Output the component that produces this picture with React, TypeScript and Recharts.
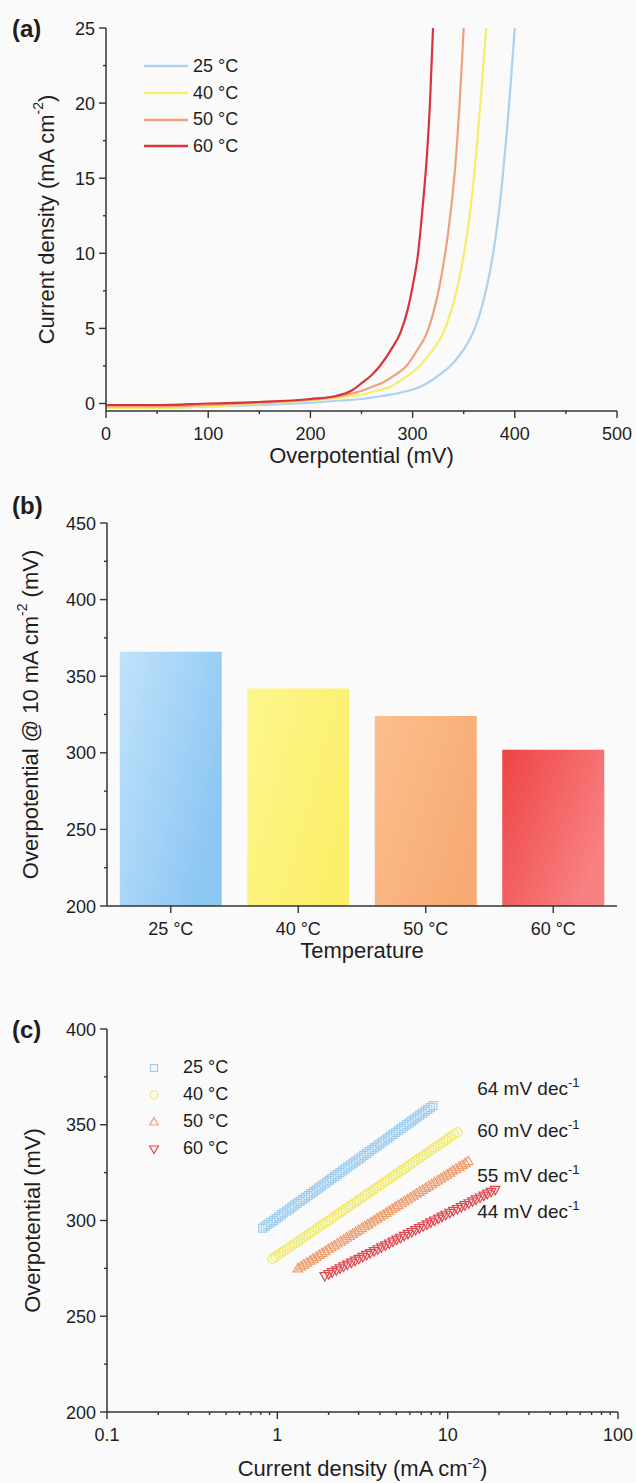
import React from "react"
import {
  LineChart,
  Line,
  BarChart,
  Bar,
  Cell,
  ScatterChart,
  Scatter,
  XAxis,
  YAxis,
  Legend,
  Label,
  ReferenceDot,
} from "recharts"

const FONT = '"Liberation Sans", Arial, Helvetica, sans-serif'
const INK = "#1e1e1e"
const AXIS = "#333"

const tempLabels = ["25 °C", "40 °C", "50 °C", "60 °C"]
const lineColors = ["#a9d3f1", "#f3ee6c", "#eea17b", "#d6353c"]
const markerColors = ["#9dccef", "#f1ea66", "#ef9d70", "#e0474d"]

// (a) polarization curves: [overpotential mV, current density mA cm-2]
const lsv25 = [
  [0, -0.3], [50, -0.3], [100, -0.2], [150, -0.1], [200, 0.05], [230, 0.2], [250, 0.3], [270, 0.5],
  [290, 0.75], [307, 1.1], [320, 1.6], [330, 2.1], [337, 2.5], [350, 3.6], [359, 4.7], [364, 5.6],
  [368, 6.5], [372, 7.6], [376, 8.9], [380, 10.5], [384, 12.5], [388, 15], [392, 17.9], [396, 21.3],
  [400, 25],
]
const lsv40 = [
  [0, -0.3], [50, -0.3], [100, -0.2], [150, 0], [200, 0.2], [230, 0.4], [251, 0.6], [265, 0.85],
  [278, 1.1], [292, 1.7], [307, 2.5], [319, 3.5], [330, 4.7], [335, 5.6], [340, 6.7], [344, 7.8],
  [348, 9.1], [352, 10.7], [356, 12.6], [360, 15], [364, 18], [368, 21.4], [372, 25],
]
const lsv50 = [
  [0, -0.2], [50, -0.2], [100, -0.1], [150, 0.05], [200, 0.25], [230, 0.5], [248, 0.8], [260, 1.1],
  [271, 1.4], [283, 1.9], [294, 2.5], [304, 3.5], [314, 4.7], [318, 5.5], [322, 6.5], [326, 7.7],
  [330, 9.2], [334, 11], [338, 13.2], [342, 16], [346, 20], [349, 23.6], [350, 25],
]
const lsv60 = [
  [0, -0.1], [50, -0.1], [100, 0], [150, 0.1], [200, 0.3], [225, 0.5], [240, 0.85], [251, 1.4],
  [260, 1.9], [268, 2.5], [280, 3.7], [288, 4.7], [295, 6.2], [300, 7.8], [305, 9.8], [310, 13.2],
  [314, 16.5], [317, 20], [320, 25],
]

// (b) overpotential at 10 mA cm-2
const eta10 = [366, 342, 324, 302]

// (c) Tafel plots: current density (mA cm-2) per overpotential step, starting at etaStart, 1 mV apart
const tafel25Start = 296
const tafel25 = [
  0.82, 0.85, 0.88, 0.915, 0.95, 0.985, 1.02, 1.055, 1.09, 1.135, 1.18, 1.22, 1.26, 1.31, 1.36, 1.41,
  1.46, 1.515, 1.57, 1.63, 1.69, 1.75, 1.81, 1.88, 1.95, 2.02, 2.09, 2.17, 2.25, 2.33, 2.41, 2.5,
  2.59, 2.69, 2.79, 2.89, 3.0, 3.11, 3.22, 3.34, 3.46, 3.59, 3.72, 3.86, 4.0, 4.14, 4.29, 4.45,
  4.61, 4.78, 4.96, 5.14, 5.33, 5.52, 5.73, 5.94, 6.15, 6.38, 6.61, 6.85, 7.1, 7.37, 7.64, 7.92, 8.2,
]
const tafel40Start = 280
const tafel40 = [
  0.94, 0.975, 1.01, 1.05, 1.09, 1.135, 1.18, 1.225, 1.27, 1.32, 1.37, 1.425, 1.48, 1.535, 1.59, 1.655,
  1.72, 1.785, 1.85, 1.925, 2.0, 2.08, 2.16, 2.245, 2.33, 2.42, 2.51, 2.61, 2.71, 2.815, 2.92, 3.035,
  3.15, 3.27, 3.39, 3.52, 3.66, 3.8, 3.95, 4.1, 4.26, 4.42, 4.59, 4.77, 4.95, 5.14, 5.34, 5.55,
  5.76, 5.98, 6.21, 6.45, 6.7, 6.96, 7.22, 7.5, 7.79, 8.09, 8.4, 8.72, 9.06, 9.41, 9.77, 10.1, 10.5,
  10.9, 11.4,
]
const tafel50Start = 275
const tafel50 = [
  1.32, 1.375, 1.43, 1.49, 1.56, 1.62, 1.69, 1.76, 1.83, 1.91, 1.99, 2.07, 2.16, 2.25, 2.35, 2.45,
  2.55, 2.66, 2.77, 2.88, 3.0, 3.13, 3.26, 3.4, 3.54, 3.69, 3.84, 4.0, 4.17, 4.35, 4.53, 4.72,
  4.92, 5.12, 5.34, 5.56, 5.8, 6.04, 6.29, 6.56, 6.83, 7.12, 7.42, 7.73, 8.05, 8.39, 8.74, 9.11,
  9.49, 9.89, 10.3, 10.7, 11.2, 11.7, 12.2, 12.7, 13.2,
]
const tafel60Start = 271
const tafel60 = [
  1.9, 2.0, 2.1, 2.22, 2.33, 2.45, 2.58, 2.72, 2.86, 3.01, 3.17, 3.34, 3.51, 3.7, 3.89, 4.09,
  4.31, 4.54, 4.77, 5.02, 5.28, 5.56, 5.85, 6.16, 6.48, 6.82, 7.18, 7.56, 7.95, 8.37, 8.81, 9.27,
  9.75, 10.3, 10.8, 11.4, 12.0, 12.6, 13.3, 14.0, 14.7, 15.5, 16.3, 17.1, 18.0, 19.0,
]
const tafelSlopes = ["64", "60", "55", "44"]

const lsvSeries = [lsv25, lsv40, lsv50, lsv60].map((s) => s.map(([x, y]) => ({ x, y })))
const tafelSeries = [
  [tafel25, tafel25Start],
  [tafel40, tafel40Start],
  [tafel50, tafel50Start],
  [tafel60, tafel60Start],
].map(([js, start]: any) => js.map((j: number, k: number) => ({ j, eta: start + k })))
const barData = tempLabels.map((t, i) => ({ t, v: eta10[i] }))

const TICK = 7
const MINOR = 3
const LEFT_GAP = 4
const BOTTOM_GAP = 6

const leftTick = (majors: number[]) => (p: any) => {
  const { x, y, payload } = p
  const ax = x + TICK + LEFT_GAP
  const major = majors.includes(payload.value)
  return (
    <g>
      <line x1={ax} x2={ax - (major ? TICK : MINOR)} y1={y} y2={y} stroke={AXIS} strokeWidth={1.4} />
      {major && (
        <text x={x} y={y + 6.5} textAnchor="end" fontSize={18} fill={INK} fontFamily={FONT}>
          {payload.value}
        </text>
      )}
    </g>
  )
}

const bottomTick = (isMajor: (v: any) => boolean) => (p: any) => {
  const { x, y, payload } = p
  const ay = y - TICK - BOTTOM_GAP
  const major = isMajor(payload.value)
  return (
    <g>
      <line x1={x} x2={x} y1={ay} y2={ay + (major ? TICK : MINOR)} stroke={AXIS} strokeWidth={1.4} />
      {major && (
        <text x={x} y={ay + 29} textAnchor="middle" fontSize={18} fill={INK} fontFamily={FONT}>
          {payload.value}
        </text>
      )}
    </g>
  )
}

const sup = (s: string) => (
  <>
    <tspan dy={-8} fontSize={14}>{s}</tspan>
    <tspan dy={8}>)</tspan>
  </>
)

const xTitle = (content: React.ReactNode, dy: number) => (p: any) => {
  const vb = p.viewBox
  return (
    <text x={vb.x + vb.width / 2} y={vb.y + dy} textAnchor="middle" fontSize={22} fill={INK} fontFamily={FONT}>
      {content}
    </text>
  )
}

const yTitle = (content: React.ReactNode, cx: number) => (p: any) => {
  const vb = p.viewBox
  const cy = vb.y + vb.height / 2
  return (
    <text
      x={cx}
      y={cy}
      transform={`rotate(-90, ${cx}, ${cy})`}
      textAnchor="middle"
      dominantBaseline="central"
      fontSize={22}
      fill={INK}
      fontFamily={FONT}
    >
      {content}
    </text>
  )
}

const marker = (kind: number, color: string, s = 4) => (p: any) => {
  const { cx, cy } = p
  const st = { fill: "none", stroke: color, strokeWidth: 1.2 }
  if (kind === 0) return <rect x={cx - s} y={cy - s} width={2 * s} height={2 * s} {...st} />
  if (kind === 1) return <circle cx={cx} cy={cy} r={s + 0.5} {...st} />
  if (kind === 2)
    return <polygon points={`${cx},${cy - s - 1} ${cx + s + 0.8},${cy + s - 0.5} ${cx - s - 0.8},${cy + s - 0.5}`} {...st} />
  return <polygon points={`${cx},${cy + s + 1} ${cx + s + 0.8},${cy - s + 0.5} ${cx - s - 0.8},${cy - s + 0.5}`} {...st} />
}

const legendA = () => (
  <div style={{ fontFamily: FONT, fontSize: 18, color: INK }}>
    {tempLabels.map((t, i) => (
      <div key={t} style={{ display: "flex", alignItems: "center", height: 26.7 }}>
        <svg width={44} height={4}>
          <line x1={0} x2={44} y1={2} y2={2} stroke={lineColors[i]} strokeWidth={2.5} />
        </svg>
        <span style={{ marginLeft: 5 }}>{t}</span>
      </div>
    ))}
  </div>
)

const legendC = () => (
  <div style={{ fontFamily: FONT, fontSize: 18, color: INK }}>
    {tempLabels.map((t, i) => (
      <div key={t} style={{ display: "flex", alignItems: "center", height: 27 }}>
        <svg width={14} height={14}>{marker(i, markerColors[i], 3.5)({ cx: 7, cy: 7 })}</svg>
        <span style={{ marginLeft: 22 }}>{t}</span>
      </div>
    ))}
  </div>
)

const panelLabel = (text: string, top: number) => (
  <div
    style={{
      position: "absolute",
      left: 12,
      top,
      fontFamily: FONT,
      fontWeight: "bold",
      fontSize: 24,
      lineHeight: "28px",
      color: INK,
    }}
  >
    {text}
  </div>
)

const barFills = [
  ["#c0e2fb", "#8cc6f3"],
  ["#fdf68e", "#fbef69"],
  ["#fcbf8d", "#f7aa74"],
  ["#ee4345", "#f88282"],
]

const logTicks = [
  0.1, 0.2, 0.3, 0.4, 0.5, 0.6, 0.7, 0.8, 0.9, 1, 2, 3, 4, 5, 6, 7, 8, 9, 10, 20, 30, 40, 50, 60, 70, 80, 90, 100,
]
const slopeAnchors = [369, 347, 324, 305]

export default function App() {
  const axisLine = { stroke: AXIS, strokeWidth: 1.5 }
  return (
    <div style={{ position: "absolute", left: 0, top: 0, width: 636, height: 1483, background: "#fafafa" }}>
      {panelLabel("(a)", 15)}
      {panelLabel("(b)", 492)}
      {panelLabel("(c)", 1016)}

      <div style={{ position: "absolute", left: 0, top: 0 }}>
        <LineChart width={636} height={480} margin={{ top: 28, right: 19, bottom: 0, left: 0 }}>
          <XAxis
            type="number"
            dataKey="x"
            domain={[0, 500]}
            ticks={[0, 50, 100, 150, 200, 250, 300, 350, 400, 450, 500]}
            interval={0}
            height={69}
            tickSize={TICK}
            tickMargin={BOTTOM_GAP}
            tickLine={false}
            axisLine={axisLine}
            tick={bottomTick((v) => v % 100 === 0)}
          >
            <Label content={xTitle("Overpotential (mV)", 52)} />
          </XAxis>
          <XAxis xAxisId="top" type="number" orientation="top" domain={[0, 500]} height={0} tick={false} tickLine={false} axisLine={axisLine} />
          <YAxis
            type="number"
            domain={[-0.5, 25]}
            allowDataOverflow
            ticks={[0, 2.5, 5, 7.5, 10, 12.5, 15, 17.5, 20, 22.5, 25]}
            interval={0}
            width={106}
            tickSize={TICK}
            tickMargin={LEFT_GAP}
            tickLine={false}
            axisLine={axisLine}
            tick={leftTick([0, 5, 10, 15, 20, 25])}
          >
            <Label content={yTitle(<>Current density (mA cm{sup("-2")}</>, 46)} />
          </YAxis>
          <YAxis yAxisId="right" orientation="right" domain={[-0.5, 25]} width={0} tick={false} tickLine={false} axisLine={axisLine} />
          <Legend
            layout="vertical"
            align="center"
            verticalAlign="middle"
            content={legendA}
            wrapperStyle={{ left: 144, top: 53, width: 120, height: 110 }}
          />
          {lsvSeries.map((d, i) => (
            <Line
              key={tempLabels[i]}
              data={d}
              dataKey="y"
              type="monotone"
              stroke={lineColors[i]}
              strokeWidth={2.2}
              dot={false}
              isAnimationActive={false}
            />
          ))}
        </LineChart>
      </div>

      <div style={{ position: "absolute", left: 0, top: 490 }}>
        <BarChart
          width={636}
          height={490}
          data={barData}
          margin={{ top: 33, right: 19, bottom: 0, left: 0 }}
          barCategoryGap="10%"
        >
          <defs>
            {barFills.map((c, i) => (
              <linearGradient key={i} id={`bar${i}`} x1="0" y1="0" x2="1" y2="0.6">
                <stop offset="0%" stopColor={c[0]} />
                <stop offset="100%" stopColor={c[1]} />
              </linearGradient>
            ))}
          </defs>
          <XAxis
            dataKey="t"
            height={74}
            tickSize={TICK}
            tickMargin={BOTTOM_GAP}
            tickLine={false}
            axisLine={axisLine}
            interval={0}
            tick={bottomTick(() => true)}
          >
            <Label content={xTitle("Temperature", 52)} />
          </XAxis>
          <XAxis xAxisId="top" dataKey="t" orientation="top" height={0} tick={false} tickLine={false} axisLine={axisLine} />
          <YAxis
            type="number"
            domain={[200, 450]}
            allowDataOverflow
            ticks={[200, 225, 250, 275, 300, 325, 350, 375, 400, 425, 450]}
            interval={0}
            width={107}
            tickSize={TICK}
            tickMargin={LEFT_GAP}
            tickLine={false}
            axisLine={axisLine}
            tick={leftTick([200, 250, 300, 350, 400, 450])}
          >
            <Label content={yTitle(<>Overpotential @ 10 mA cm<tspan dy={-8} fontSize={14}>-2</tspan><tspan dy={8}> (mV)</tspan></>, 30)} />
          </YAxis>
          <YAxis yAxisId="right" orientation="right" domain={[200, 450]} width={0} tick={false} tickLine={false} axisLine={axisLine} />
          <Bar dataKey="v" isAnimationActive={false}>
            {barData.map((d, i) => (
              <Cell key={d.t} fill={`url(#bar${i})`} />
            ))}
          </Bar>
        </BarChart>
      </div>

      <div style={{ position: "absolute", left: 0, top: 1000 }}>
        <ScatterChart width={636} height={483} margin={{ top: 29, right: 18, bottom: 0, left: 0 }}>
          <XAxis
            type="number"
            dataKey="j"
            scale="log"
            domain={[0.1, 100]}
            allowDataOverflow
            ticks={logTicks}
            interval={0}
            height={71}
            tickSize={TICK}
            tickMargin={BOTTOM_GAP}
            tickLine={false}
            axisLine={axisLine}
            tick={bottomTick((v) => [0.1, 1, 10, 100].includes(v))}
          >
            <Label content={xTitle(<>Current density (mA cm{sup("-2")}</>, 64)} />
          </XAxis>
          <XAxis xAxisId="top" type="number" scale="log" orientation="top" domain={[0.1, 100]} allowDataOverflow height={0} tick={false} tickLine={false} axisLine={axisLine} />
          <YAxis
            type="number"
            dataKey="eta"
            domain={[200, 400]}
            allowDataOverflow
            ticks={[200, 225, 250, 275, 300, 325, 350, 375, 400]}
            interval={0}
            width={107}
            tickSize={TICK}
            tickMargin={LEFT_GAP}
            tickLine={false}
            axisLine={axisLine}
            tick={leftTick([200, 250, 300, 350, 400])}
          >
            <Label content={yTitle("Overpotential (mV)", 32)} />
          </YAxis>
          <YAxis yAxisId="right" orientation="right" domain={[200, 400]} width={0} tick={false} tickLine={false} axisLine={axisLine} />
          <Legend
            layout="vertical"
            align="center"
            verticalAlign="middle"
            content={legendC}
            wrapperStyle={{ left: 147, top: 54, width: 120, height: 110 }}
          />
          {tafelSeries.map((d, i) => (
            <Scatter
              key={tempLabels[i]}
              data={d}
              shape={marker(i, markerColors[i])}
              isAnimationActive={false}
            />
          ))}
          {tafelSlopes.map((s, i) => (
            <ReferenceDot
              key={s}
              x={14.9}
              y={slopeAnchors[i]}
              r={0}
              ifOverflow="visible"
              shape={(p: any) => (
                <text x={p.cx} y={p.cy + 7} fontSize={19} fill={INK} fontFamily={FONT}>
                  {s} mV dec
                  <tspan dy={-8} fontSize={13}>-1</tspan>
                </text>
              )}
            />
          ))}
        </ScatterChart>
      </div>
    </div>
  )
}
